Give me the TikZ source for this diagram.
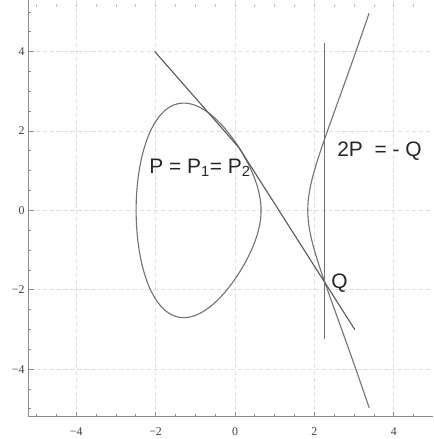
\documentclass[tikz,border=0pt]{standalone}
\usepackage{fontspec}
\setmainfont{Liberation Serif}
\newfontfamily\labelfont{Liberation Sans}
\usetikzlibrary{positioning}

% roots of x^3 - 5x + 3
\def\rootA{-2.4909}
\def\rootB{0.6566}
\def\rootC{1.8343}

\begin{document}
\begin{tikzpicture}[
  gridline/.style={draw=black!13, dash pattern=on 3pt off 2pt, line width=0.4pt},
  axisline/.style={draw=black!45, line width=0.5pt},
  curve/.style={draw=black!55, line width=0.8pt},
  tangent/.style={draw=black!65, line width=0.8pt},
  vline/.style={draw=black!55, line width=1.1pt},
  lbl/.style={font=\labelfont\fontsize{15}{17}\selectfont, text=black!85, inner sep=1pt},
  ticklbl/.style={font=\rmfamily\fontsize{8.5}{10}\selectfont, text=black!75, inner sep=1pt}
]
\useasboundingbox (-5.92,-5.76) rectangle (4.99,5.30);

% grid
\foreach \v in {-4,-2,0,2,4} {
  \draw[gridline] (-5.2,\v) -- (4.99,\v);
  \draw[gridline] (\v,-5.2) -- (\v,5.3);
}

% frame
\draw[axisline] (-5.2,5.3) -- (-5.2,-5.2) -- (4.99,-5.2);
\foreach \v in {-5,-4.5,...,4.5} {
  \draw[axisline] (\v,-5.2) -- ++(0,0.07);
  \draw[axisline, draw=black!25] (\v,5.2) -- ++(0,-0.07);
}
\foreach \v in {-5,-4.5,...,5}
  \draw[axisline] (-5.2,\v) -- ++(0.07,0);
\foreach \v/\t in {-4/{−4},-2/{−2},0/0,2/2,4/4} {
  \draw[axisline] (\v,-5.2) -- ++(0,0.13);
  \draw[axisline] (-5.2,\v) -- ++(0.13,0);
  \node[ticklbl] (xt\v) at (\v,-5.58) {\t};
  \node[ticklbl, anchor=east] (yt\v) at (-5.26,\v) {\t};
}

% the curve
\draw[curve] plot[domain=0:360, samples=181, smooth, variable=\t]
  ({\rootA+(\rootB-\rootA)*(1-cos(\t))/2},
   {(\rootB-\rootA)/2*sin(\t)*sqrt(\rootC-(\rootA+(\rootB-\rootA)*(1-cos(\t))/2))});
\draw[curve] plot[domain=-1.2433:1.2433, samples=101, smooth, variable=\s]
  ({\rootC+\s*\s}, {\s*sqrt((\rootC+\s*\s-\rootA)*(\rootC+\s*\s-\rootB))});

% points and lines
\coordinate (A) at (-2.02,4.0);
\coordinate (P) at (0.1,1.5815);
\coordinate (Q) at (2.269,-1.826);
\coordinate (E) at (3.02,-3.006);
\coordinate (vtop) at (2.26,4.22);
\coordinate (vbot) at (2.26,-3.25);

\draw[tangent] (A) -- (P) -- (Q) -- (E);
\draw[vline] (vtop) -- (vbot);

\node[lbl] (plabel) at (-0.88,1.07) {P = P\textsubscript{1}= P\textsubscript{2}};
\node[lbl] (twop) at (3.64,1.48) {2P\ \ =\ -\ Q};
\node[lbl, right=0.12cm of Q] (qlabel) {Q};
\end{tikzpicture}
\end{document}
